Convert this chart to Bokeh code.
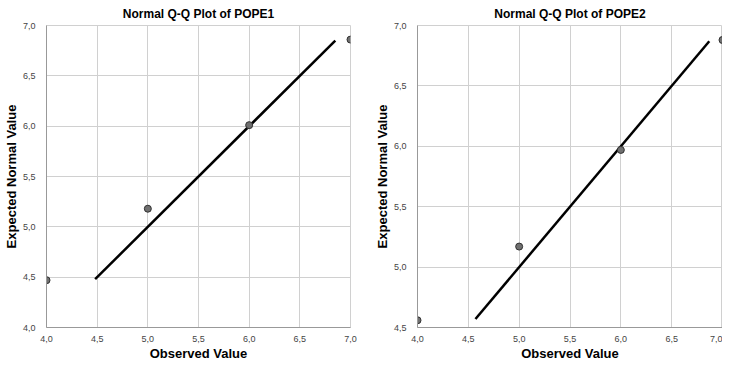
from bokeh.plotting import figure
from bokeh.layouts import row
from bokeh.models import FixedTicker, CustomJSTickFormatter, Range1d
from bokeh.embed import file_html
from bokeh.resources import INLINE

observed = [4.0, 5.0, 6.0, 7.0]
pope1_expected = [4.47, 5.18, 6.01, 6.86]
pope2_expected = [4.56, 5.17, 5.97, 6.88]
pope1_line = [4.48, 6.85]
pope2_line = [4.57, 6.87]
x_ticks = [4.0, 4.5, 5.0, 5.5, 6.0, 6.5, 7.0]
y1_ticks = [4.0, 4.5, 5.0, 5.5, 6.0, 6.5, 7.0]
y2_ticks = [4.5, 5.0, 5.5, 6.0, 6.5, 7.0]

FONT = "Liberation Sans"
fmt_code = "return tick.toFixed(1).replace('.', ',');"


def make_plot(title, expected, line, yticks, frame_w, right_border):
    p = figure(output_backend="svg", toolbar_location=None,
               frame_width=frame_w, frame_height=302,
               min_border_left=38, min_border_right=right_border,
               min_border_top=0, min_border_bottom=0,
               x_range=Range1d(4.0, 7.0), y_range=Range1d(yticks[0], 7.0),
               title=title)
    p.title.text_font = FONT
    p.title.text_font_size = "12px"
    p.title.text_font_style = "bold"
    p.title.align = "center"
    p.title.text_color = "#000000"
    p.title.standoff = 9
    p.outline_line_color = "#d0d0d0"
    p.background_fill_color = "white"
    p.border_fill_color = "white"

    p.xaxis.ticker = FixedTicker(ticks=x_ticks)
    p.yaxis.ticker = FixedTicker(ticks=yticks)
    for ax in (p.xaxis[0], p.yaxis[0]):
        ax.formatter = CustomJSTickFormatter(code=fmt_code)
        ax.major_tick_line_color = None
        ax.minor_tick_line_color = None
        ax.axis_line_color = "#999999"
        ax.major_label_text_font = FONT
        ax.major_label_text_font_size = "9px"
        ax.major_label_text_color = "#444444"
        ax.axis_label_text_font = FONT
        ax.axis_label_text_font_size = "13px"
        ax.axis_label_text_font_style = "bold"
        ax.axis_label_text_color = "#000000"
    p.xaxis.axis_label = "Observed Value"
    p.yaxis.axis_label = "Expected Normal Value"
    p.xaxis.major_label_standoff = 2
    p.yaxis.major_label_standoff = 5
    p.xaxis.axis_label_standoff = 1
    p.yaxis.axis_label_standoff = 1

    p.xgrid.grid_line_color = "#d0d0d0"
    p.ygrid.grid_line_color = "#d0d0d0"

    p.line(line, line, line_color="black", line_width=2.5)
    p.scatter(observed, expected, size=7, fill_color="#707070",
              line_color="#303030", line_width=1)
    return p


p1 = make_plot("Normal Q-Q Plot of POPE1", pope1_expected, pope1_line, y1_ticks, 304, 21)
p2 = make_plot("Normal Q-Q Plot of POPE2", pope2_expected, pope2_line, y2_ticks, 305, 0)
layout = row(p1, p2, spacing=0)

open("out.html", "w").write(file_html(layout, INLINE))
